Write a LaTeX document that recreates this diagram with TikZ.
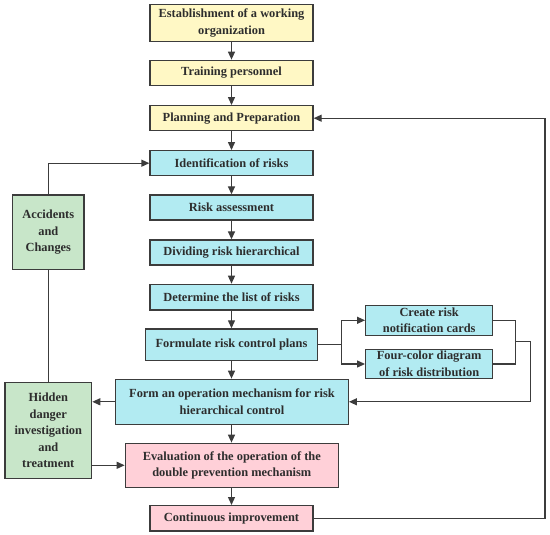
\documentclass[tikz,border=0pt]{standalone}
\usepackage{fontspec}
\setmainfont{Liberation Serif}
\usetikzlibrary{arrows.meta}
\definecolor{yel}{RGB}{255,248,197}
\definecolor{cya}{RGB}{178,235,242}
\definecolor{pnk}{RGB}{255,208,216}
\definecolor{grn}{RGB}{200,230,201}
\definecolor{edge}{RGB}{60,60,60}
\definecolor{txt}{RGB}{45,45,45}
\tikzset{
  box/.style={draw=edge, line width=1.3pt, inner sep=0pt, align=center,
    text=txt, font=\fontsize{12.4}{16.5}\selectfont\bfseries},
  ybox/.style={box, fill=yel},
  cbox/.style={box, fill=cya},
  pbox/.style={box, fill=pnk},
  gbox/.style={box, fill=grn},
  conn/.style={draw=edge, line width=1.3pt},
  arr/.style={conn, -{Triangle[length=8pt,width=7pt]}}
}
\begin{document}
\begin{tikzpicture}[x=1pt,y=-1pt]
\useasboundingbox (0,0) rectangle (550,535);
% central column
\node[ybox, minimum width=163pt, minimum height=36.6pt] (b1) at (231.5,23) {Establishment of a working\\organization};
\node[ybox, minimum width=163pt, minimum height=25.4pt] (b2) at (231.5,73) {Training personnel};
\node[ybox, minimum width=163pt, minimum height=25pt] (b3) at (231.5,118.2) {Planning and Preparation};
\node[cbox, minimum width=163pt, minimum height=25pt] (b4) at (231.5,163.2) {Identification of risks};
\node[cbox, minimum width=163pt, minimum height=25pt] (b5) at (231.5,207.5) {Risk assessment};
\node[cbox, minimum width=163pt, minimum height=25pt] (b6) at (231.5,252.5) {Dividing risk hierarchical};
\node[cbox, minimum width=163pt, minimum height=25.7pt] (b7) at (231.5,297.2) {Determine the list of risks};
\node[cbox, minimum width=171.6pt, minimum height=31.7pt] (b8) at (231.5,344.8) {Formulate risk control plans};
\node[cbox, minimum width=232.6pt, minimum height=45pt] (b9) at (232,401.8) {Form an operation mechanism for risk\\hierarchical control};
\node[pbox, minimum width=213pt, minimum height=44pt] (b10) at (231.8,465.3) {Evaluation of the operation of the\\double prevention mechanism};
\node[pbox, minimum width=163pt, minimum height=25.3pt] (b11) at (231.5,518.3) {Continuous improvement};
% left
\node[gbox, minimum width=71.3pt, minimum height=74.5pt] (acc) at (48.3,232.2) {Accidents\\and\\Changes};
\node[gbox, minimum width=86.7pt, minimum height=95.6pt] (hid) at (48.3,430.5) {Hidden\\danger\\investigation\\and\\treatment};
% right
\node[cbox, minimum width=127pt, minimum height=30pt] (cr) at (429.2,320.3) {Create risk\\notification cards};
\node[cbox, minimum width=127pt, minimum height=29.4pt] (fc) at (429.2,364) {Four-color diagram\\of risk distribution};
% coordinates
\coordinate (split) at (341.7,344.8);
\coordinate (brk) at (515.3,341.7);
\coordinate (outr) at (530.7,341.7);
\coordinate (farr) at (545,518.3);
% vertical arrows
\draw[arr] (b1) -- (b2);
\draw[arr] (b2) -- (b3);
\draw[arr] (b3) -- (b4);
\draw[arr] (b4) -- (b5);
\draw[arr] (b5) -- (b6);
\draw[arr] (b6) -- (b7);
\draw[arr] (b7) -- (b8);
\draw[arr] (b8) -- (b9.north -| b8.south);
\draw[arr] (b9.south -| b8.south) -- (b10.north -| b8.south);
\draw[arr] (b10.south -| b8.south) -- (b11);
% left loops
\draw[arr] (acc.north) |- (b4.west);
\draw[conn] (hid.north) -- (acc.south);
\draw[arr] (b9.west) -- (hid.east |- b9.west);
\draw[arr] (hid.east |- b10.west) -- (b10.west);
% right branch
\draw[conn] (b8.east) -- (split);
\draw[arr] (split) |- (cr.west);
\draw[arr] (split) |- (fc.west);
\draw[conn] (cr.east) -| (brk |- fc.east) -- (fc.east);
\draw[arr] (brk) -- (outr) |- (b9.east);
% big loop
\draw[arr] (b11.east) -- (farr) |- (b3.east);
\end{tikzpicture}
\end{document}
